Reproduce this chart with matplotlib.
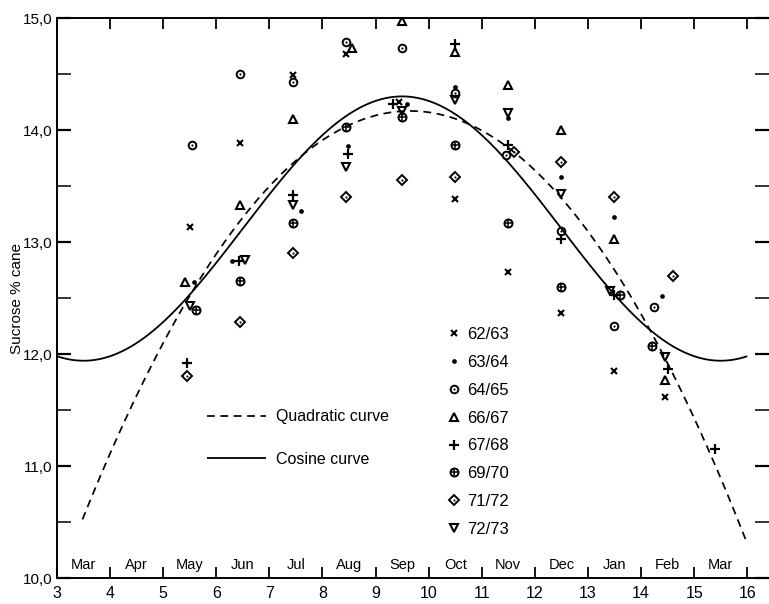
import matplotlib
matplotlib.use('Agg')
import matplotlib.pyplot as plt
import numpy as np
from matplotlib.ticker import MultipleLocator
from matplotlib.legend_handler import HandlerTuple

plt.rcParams['font.family'] = ['Liberation Sans', 'DejaVu Sans']

# ---------------- data ----------------
x_ticks = [3, 4, 5, 6, 7, 8, 9, 10, 11, 12, 13, 14, 15, 16]
y_ticks = [10, 11, 12, 13, 14, 15]
y_tick_labels = ['10,0', '11,0', '12,0', '13,0', '14,0', '15,0']
months = ['Mar', 'Apr', 'May', 'Jun', 'Jul', 'Aug', 'Sep', 'Oct', 'Nov',
          'Dec', 'Jan', 'Feb', 'Mar']
month_pos = [3.5, 4.5, 5.5, 6.5, 7.5, 8.5, 9.5, 10.5, 11.5, 12.5, 13.5, 14.5, 15.5]

seasons = ['62/63', '63/64', '64/65', '66/67', '67/68', '69/70', '71/72', '72/73']

x_6263 = [5.50, 6.45, 7.45, 8.45, 9.45, 10.50, 11.50, 12.50, 13.50, 14.45]
y_6263 = [13.13, 13.88, 14.49, 14.68, 14.25, 13.38, 12.73, 12.37, 11.85, 11.62]

x_6364 = [5.58, 6.30, 7.60, 8.48, 9.60, 10.50, 11.50, 12.50, 13.50, 14.40]
y_6364 = [12.64, 12.83, 13.28, 13.86, 14.23, 14.38, 14.11, 13.58, 13.22, 12.52]

x_6465 = [5.55, 6.45, 7.45, 8.45, 9.50, 10.50, 11.45, 12.50, 13.50, 14.25]
y_6465 = [13.87, 14.50, 14.43, 14.79, 14.73, 14.33, 13.78, 13.10, 12.25, 12.42]

x_6667 = [5.42, 6.45, 7.45, 8.55, 9.50, 10.50, 11.50, 12.50, 13.50, 14.45]
y_6667 = [12.64, 13.33, 14.10, 14.73, 14.97, 14.70, 14.40, 14.00, 13.03, 11.77]

x_6768 = [5.45, 6.42, 7.45, 8.48, 9.33, 10.50, 11.50, 12.50, 13.50, 14.50, 15.40]
y_6768 = [11.92, 12.83, 13.42, 13.79, 14.23, 14.77, 13.87, 13.03, 12.53, 11.87, 11.15]

x_6970 = [5.62, 6.45, 7.45, 8.45, 9.50, 10.50, 11.50, 12.50, 13.60, 14.20]
y_6970 = [12.39, 12.65, 13.17, 14.03, 14.12, 13.87, 13.17, 12.60, 12.53, 12.07]

x_7172 = [5.45, 6.45, 7.45, 8.45, 9.50, 10.50, 11.60, 12.50, 13.50, 14.60]
y_7172 = [11.80, 12.29, 12.90, 13.40, 13.55, 13.58, 13.80, 13.71, 13.40, 12.70]

x_7273 = [5.50, 6.55, 7.45, 8.45, 9.50, 10.50, 11.50, 12.50, 13.42, 14.45]
y_7273 = [12.43, 12.84, 13.33, 13.67, 14.17, 14.27, 14.15, 13.43, 12.56, 11.97]

# fitted curves (parameters)
cos_mean, cos_amp, cos_peak, cos_period = 13.12, 1.18, 9.5, 12.0
cos_start, cos_end = 3.0, 16.0
quad_top_x, quad_top_y, quad_curv = 9.65, 14.17, 0.0958
quad_start, quad_end = 3.48, 16.0

# ---------------- figure ----------------
W, H = 769, 604
fig = plt.figure(figsize=(W / 100, H / 100), dpi=100)
ax = fig.add_axes([57 / W, 1 - 578 / H, 712 / W, 560 / H])
ax.set_xlim(3, 16.41)
ax.set_ylim(10, 15)

xc = np.linspace(cos_start, cos_end, 400)
yc = cos_mean + cos_amp * np.cos(2 * np.pi * (xc - cos_peak) / cos_period)
xq = np.linspace(quad_start, quad_end, 400)
yq = quad_top_y - quad_curv * (xq - quad_top_x) ** 2

l_cos, = ax.plot(xc, yc, color='black', lw=1.3, solid_capstyle='butt')
l_quad, = ax.plot(xq, yq, color='black', lw=1.25, linestyle=(0, (4.5, 3.2)))

k = 'black'
series = [
    (x_6263, y_6263, [dict(marker='x', ms=4.5, mew=1.5)]),
    (x_6364, y_6364, [dict(marker='o', ms=3.4, mfc=k, mew=0)]),
    (x_6465, y_6465, [dict(marker='o', ms=5.5, mfc='none', mew=1.4),
                      dict(marker='o', ms=1.6, mfc=k, mew=0)]),
    (x_6667, y_6667, [dict(marker='^', ms=6, mfc='none', mew=1.5)]),
    (x_6768, y_6768, [dict(marker='+', ms=6.5, mew=1.6)]),
    (x_6970, y_6970, [dict(marker='o', ms=5.8, mfc='none', mew=1.4),
                      dict(marker='+', ms=5.8, mew=1.1)]),
    (x_7172, y_7172, [dict(marker='D', ms=4.8, mfc='none', mew=1.4),
                      dict(marker='o', ms=1.5, mfc=k, mew=0)]),
    (x_7273, y_7273, [dict(marker='v', ms=6, mfc='none', mew=1.5)]),
]

handles = []
for xs, ys, layers in series:
    hs = []
    for st in layers:
        h, = ax.plot(xs, ys, ls='none', color=k, mec=k, **st)
        hs.append(h)
    handles.append(tuple(hs))

# ---------------- axes styling ----------------
for s in ['left', 'bottom', 'top']:
    ax.spines[s].set_linewidth(1.4)
ax.spines['right'].set_visible(False)

ax.set_xticks(x_ticks)
ax.set_xticklabels([str(v) for v in x_ticks], fontsize=11.5)
ax.set_yticks(y_ticks)
ax.set_yticklabels(y_tick_labels, fontsize=11)
ax.yaxis.set_minor_locator(MultipleLocator(0.5))
ax.tick_params(axis='x', which='major', direction='in', length=8, width=1.3,
               top=True, bottom=True, pad=6)
ax.tick_params(axis='y', which='both', direction='in', length=10, width=1.1,
               left=True, right=True, pad=3)
ax.tick_params(axis='y', which='major', width=1.6)

ax.set_ylabel('Sucrose % cane', fontsize=11)
ax.yaxis.set_label_coords(-0.047, 0.5)

for m, p in zip(months, month_pos):
    ax.text(p, 10.12, m, ha='center', va='center', fontsize=10.5)

leg1 = ax.legend([l_quad, l_cos], ['Quadratic curve', 'Cosine curve'],
                 loc='upper left', bbox_to_anchor=(0.211, 0.301),
                 frameon=False, fontsize=11.5, handlelength=3.7,
                 handletextpad=0.6, labelspacing=1.7, borderpad=0,
                 borderaxespad=0)
ax.add_artist(leg1)

leg2 = ax.legend(handles, seasons, loc='upper left',
                 bbox_to_anchor=(0.546, 0.448), frameon=False, fontsize=12,
                 handlelength=1.0, handletextpad=0.3, labelspacing=0.77,
                 borderpad=0, borderaxespad=0,
                 handler_map={tuple: HandlerTuple(ndivide=1, pad=0)})

fig.savefig('out.png', dpi=100)
